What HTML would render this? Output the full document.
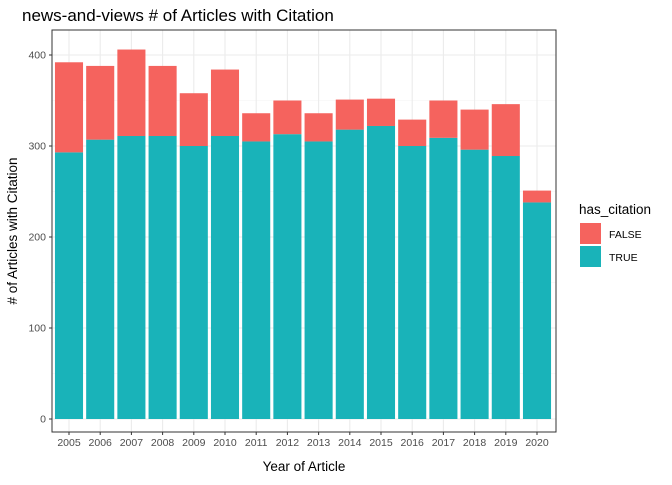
<!DOCTYPE html>
<html><head><meta charset="utf-8"><style>
body{margin:0;background:#fff;font-family:"Liberation Sans",Arial,sans-serif}
</style></head><body>
<svg id="c" width="672" height="480" xmlns="http://www.w3.org/2000/svg" font-family="Liberation Sans, Arial, sans-serif"></svg>
<script>
const years=["2005","2006","2007","2008","2009","2010","2011","2012","2013","2014","2015","2016","2017","2018","2019","2020"];
const trueVals=[293,307,311,311,300,311,305,313,305,318,322,300,309,296,289,238];
const falseVals=[99,81,95,77,58,73,31,37,31,33,30,29,41,44,57,13];
const yTicks=[0,100,200,300,400];
const NS="http://www.w3.org/2000/svg";
const svg=document.getElementById('c');
const L=52,R=556,T=30,B=432;
const y=v=>419-v*0.91;
const step=(537-69)/15;
const x=i=>69+i*step;
const bw=step*0.9;
function el(t,a,p){const e=document.createElementNS(NS,t);for(const k in a)e.setAttribute(k,a[k]);(p||svg).appendChild(e);return e;}
const title=el('text',{x:22,y:21,'font-size':17,fill:'#000'});title.textContent='news-and-views # of Articles with Citation';


const panel=el('rect',{x:L,y:T,width:R-L,height:B-T,fill:'#fff'});


for(let v=50;v<450;v+=100){el('line',{x1:L,x2:R,y1:y(v),y2:y(v),stroke:'#f3f3f3','stroke-width':0.6});}
yTicks.forEach(v=>{el('line',{x1:L,x2:R,y1:y(v),y2:y(v),stroke:'#ebebeb','stroke-width':1.1});
 el('line',{x1:L-3,x2:L,y1:y(v),y2:y(v),stroke:'#333'});
 const t=el('text',{x:L-6,y:y(v)+3.5,'font-size':10.5,fill:'#4d4d4d','text-anchor':'end'});t.textContent=v;
 
 });
years.forEach((yr,i)=>{el('line',{x1:x(i),x2:x(i),y1:T,y2:B,stroke:'#ebebeb','stroke-width':1.1});});
years.forEach((yr,i)=>{
 const tv=trueVals[i],fv=falseVals[i];
 const b1=el('rect',{x:x(i)-bw/2,y:y(tv),width:bw,height:y(0)-y(tv),fill:'#19b3b9'});
 
 
 const b2=el('rect',{x:x(i)-bw/2,y:y(tv+fv),width:bw,height:y(tv)-y(tv+fv),fill:'#f5635e'});
 
 
 el('line',{x1:x(i),x2:x(i),y1:B,y2:B+3,stroke:'#333'});
 const t=el('text',{x:x(i),y:B+14,'font-size':10.5,fill:'#4d4d4d','text-anchor':'middle'});t.textContent=yr;
 
 
});
el('rect',{x:L,y:T,width:R-L,height:B-T,fill:'none',stroke:'#333','stroke-width':1});
const xt=el('text',{x:(L+R)/2,y:471,'font-size':13.5,'text-anchor':'middle'});xt.textContent='Year of Article';


const yt=el('text',{x:0,y:0,'font-size':13.5,'text-anchor':'middle',transform:`translate(17,${(T+B)/2}) rotate(-90)`});yt.textContent='# of Articles with Citation';


const lg=el('g',{});


const lt=el('text',{x:579,y:214,'font-size':13.5},lg);lt.textContent='has_citation';
[['FALSE','#f5635e',223],['TRUE','#19b3b9',246]].forEach(([n,c,yy])=>{
 const g=el('g',{},lg);
 
 
 el('rect',{x:580,y:yy,width:21,height:21,fill:c},g);
 const t=el('text',{x:609,y:yy+15,'font-size':10.5},g);t.textContent=n;
});
</script>
</body></html>
